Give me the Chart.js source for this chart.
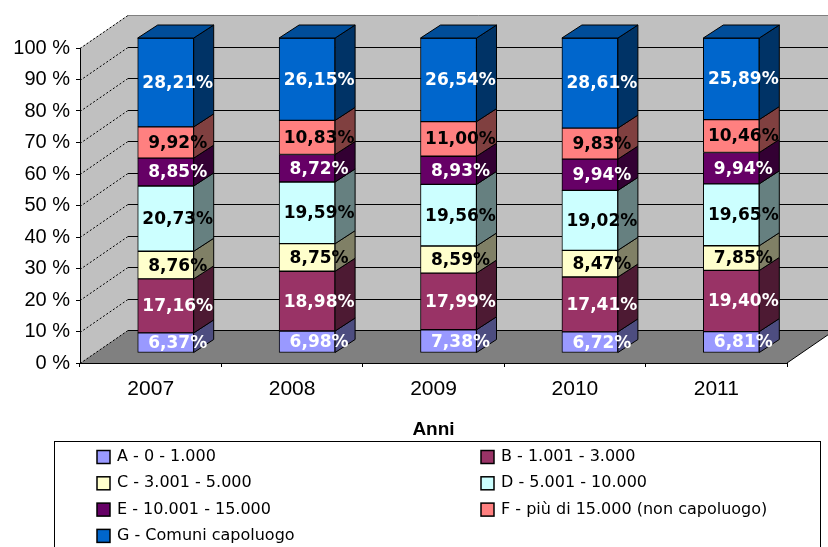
<!DOCTYPE html>
<html>
<head>
<meta charset="utf-8">
<script src="https://cdn.jsdelivr.net/npm/chart.js@4/dist/chart.umd.min.js"></script>
<style>
  html, body { margin: 0; padding: 0; background: #fff; }
</style>
</head>
<body>
<canvas id="grafico" width="828" height="547"></canvas>
<script>
// Dati
const anni = ['2007', '2008', '2009', '2010', '2011'];
const classi = [
  'A - 0 - 1.000',
  'B - 1.001 - 3.000',
  'C - 3.001 - 5.000',
  'D - 5.001 - 10.000',
  'E - 10.001 - 15.000',
  'F - più di 15.000 (non capoluogo)',
  'G - Comuni capoluogo'
];
const serieA = [6.37, 6.98, 7.38, 6.72, 6.81];
const serieB = [17.16, 18.98, 17.99, 17.41, 19.40];
const serieC = [8.76, 8.75, 8.59, 8.47, 7.85];
const serieD = [20.73, 19.59, 19.56, 19.02, 19.65];
const serieE = [8.85, 8.72, 8.93, 9.94, 9.94];
const serieF = [9.92, 10.83, 11.00, 9.83, 10.46];
const serieG = [28.21, 26.15, 26.54, 28.61, 25.89];
const tickY = [0, 10, 20, 30, 40, 50, 60, 70, 80, 90, 100];

const colori = ['#9999ff', '#993366', '#ffffcc', '#ccffff', '#660066', '#ff8080', '#0066cc'];
const coloriLato = ['#4d4d80', '#4d1a33', '#808066', '#668080', '#330033', '#804040', '#003366'];
const coloriTesto = ['#fff', '#fff', '#000', '#000', '#fff', '#000', '#fff'];
const serie = [serieA, serieB, serieC, serieD, serieE, serieF, serieG];

// Pareti e pavimento 3D
const pareti3D = {
  id: 'pareti3D',
  beforeDraw(chart) {
    const { ctx, chartArea: a, scales: { y } } = chart;
    const dx = 48, dy = -33;
    ctx.save();
    ctx.fillStyle = '#c0c0c0';
    ctx.fillRect(a.left + dx, a.top + dy, a.right - a.left, a.bottom - a.top);
    ctx.beginPath();
    ctx.moveTo(a.left, a.bottom);
    ctx.lineTo(a.left, a.top);
    ctx.lineTo(a.left + dx, a.top + dy);
    ctx.lineTo(a.left + dx, a.bottom + dy);
    ctx.closePath();
    ctx.fill();
    ctx.fillStyle = '#808080';
    ctx.beginPath();
    ctx.moveTo(a.left, a.bottom);
    ctx.lineTo(a.right, a.bottom);
    ctx.lineTo(a.right + dx, a.bottom + dy);
    ctx.lineTo(a.left + dx, a.bottom + dy);
    ctx.closePath();
    ctx.fill();

    ctx.lineWidth = 1;
    y.ticks.forEach(t => {
      const py = Math.round(y.getPixelForValue(t.value)) + 0.5;
      ctx.strokeStyle = t.value === 100 ? '#808080' : '#000';
      ctx.setLineDash([]);
      ctx.beginPath();
      ctx.moveTo(a.left + dx, py + dy);
      ctx.lineTo(a.right + dx, py + dy);
      ctx.stroke();
      ctx.strokeStyle = '#000';
      ctx.setLineDash([2, 2]);
      ctx.beginPath();
      ctx.moveTo(a.left, py);
      ctx.lineTo(a.left + dx, py + dy);
      ctx.stroke();
    });
    ctx.setLineDash([]);
    ctx.strokeStyle = '#000';
    ctx.beginPath();
    ctx.moveTo(a.right, a.bottom);
    ctx.lineTo(a.right + dx, a.bottom + dy);
    ctx.stroke();
    ctx.restore();
  }
};

// Barre 3D con etichette
const barre3D = {
  id: 'barre3D',
  beforeDatasetsDraw(chart) {
    chart.ctx.save();
    chart.ctx.translate(15, -10);
  },
  afterDatasetsDraw(chart) {
    const ctx = chart.ctx;
    const px = 20, py = -13;
    const n = chart.data.datasets.length;
    ctx.lineWidth = 1;
    ctx.strokeStyle = '#000';
    chart.data.datasets.forEach((ds, i) => {
      chart.getDatasetMeta(i).data.forEach(bar => {
        const { x, y, base, width } = bar.getProps(['x', 'y', 'base', 'width'], true);
        const l = x - width / 2, r = x + width / 2;
        ctx.fillStyle = coloriLato[i];
        ctx.beginPath();
        ctx.moveTo(r, y);
        ctx.lineTo(r + px, y + py);
        ctx.lineTo(r + px, base + py);
        ctx.lineTo(r, base);
        ctx.closePath();
        ctx.fill();
        ctx.stroke();
        if (i === n - 1) {
          ctx.fillStyle = '#004d99';
          ctx.beginPath();
          ctx.moveTo(l, y);
          ctx.lineTo(l + px, y + py);
          ctx.lineTo(r + px, y + py);
          ctx.lineTo(r, y);
          ctx.closePath();
          ctx.fill();
          ctx.stroke();
        }
      });
    });
    ctx.font = 'bold 17px "DejaVu Sans"';
    ctx.textAlign = 'center';
    ctx.textBaseline = 'middle';
    chart.data.datasets.forEach((ds, i) => {
      chart.getDatasetMeta(i).data.forEach((bar, j) => {
        const { x, y, base } = bar.getProps(['x', 'y', 'base'], true);
        ctx.fillStyle = coloriTesto[i];
        ctx.fillText(ds.data[j].toFixed(2).replace('.', ',') + '%', x + 12, (y + base) / 2 + 1);
      });
    });
    ctx.restore();
  }
};

// Legenda a due colonne
const legenda = {
  id: 'legenda',
  afterDraw(chart) {
    const ctx = chart.ctx;
    ctx.save();
    ctx.strokeStyle = '#000';
    ctx.lineWidth = 1;
    ctx.strokeRect(54.5, 441.5, 766, 130);
    ctx.font = '16px "DejaVu Sans"';
    ctx.textBaseline = 'middle';
    ctx.textAlign = 'left';
    chart.data.datasets.forEach((ds, i) => {
      const col = i % 2, row = Math.floor(i / 2);
      const bx = col === 0 ? 97 : 481;
      const cy = 457 + row * 26.3;
      ctx.fillStyle = colori[i];
      ctx.fillRect(bx, cy - 6.5, 13, 13);
      ctx.lineWidth = 1.5;
      ctx.strokeRect(bx, cy - 6.5, 13, 13);
      ctx.fillStyle = '#000';
      ctx.fillText(ds.label, bx + 20, cy);
    });
    ctx.restore();
  }
};

new Chart(document.getElementById('grafico'), {
  type: 'bar',
  data: {
    labels: anni,
    datasets: classi.map((nome, i) => ({
      label: nome,
      data: serie[i],
      backgroundColor: colori[i],
      borderColor: '#000',
      borderWidth: 1,
      borderSkipped: false,
      barThickness: 56
    }))
  },
  options: {
    responsive: false,
    animation: false,
    layout: { padding: { top: 48, right: 41, bottom: 104, left: 0 } },
    plugins: {
      legend: { display: false },
      tooltip: { enabled: false }
    },
    scales: {
      x: {
        stacked: true,
        grid: { offset: true, drawOnChartArea: false, tickLength: 4, color: '#000' },
        border: { color: '#000' },
        ticks: { color: '#000', padding: 10, font: { family: 'Liberation Sans', size: 21 } },
        title: {
          display: true,
          text: 'Anni',
          color: '#000',
          font: { family: 'Liberation Sans', size: 19, weight: 'bold' },
          padding: { top: 0, bottom: 2 }
        },
        afterFit: s => { s.height = 80; }
      },
      y: {
        stacked: true,
        min: 0,
        max: 100,
        afterBuildTicks: s => { s.ticks = tickY.map(v => ({ value: v })); },
        grid: { drawOnChartArea: false, tickLength: 4, color: '#000' },
        border: { color: '#000' },
        ticks: {
          color: '#000',
          padding: 6,
          font: { family: 'Liberation Sans', size: 20 },
          callback: v => v + ' %'
        },
        afterFit: s => { s.width = 80; }
      }
    }
  },
  plugins: [pareti3D, barre3D, legenda]
});
</script>
</body>
</html>
